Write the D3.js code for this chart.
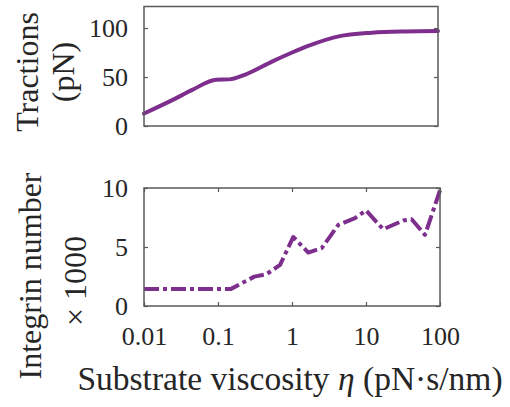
<!DOCTYPE html>
<html>
<head>
<meta charset="utf-8">
<script src="https://cdn.jsdelivr.net/npm/d3@7"></script>
<style>
  html, body { margin: 0; padding: 0; background: #fff; }
  svg { display: block; }
  text { font-family: "Liberation Serif", "Times New Roman", serif; fill: #262626; }
</style>
</head>
<body>
<svg id="chart" width="510" height="407"></svg>
<script>
// Viscosity samples (pN·s/nm) and mean traction force (pN)
const tractionEta = [0.01, 0.025, 0.046, 0.096, 0.145, 0.244, 0.56, 1, 1.75, 4.45, 12.6, 35.5, 100];
const tractionPN  = [12.7, 26.9, 37.1, 47.3, 47.6, 52.8, 66, 74.5, 82, 91.5, 95.3, 96.6, 97];

// Bound integrin count (×1000) against viscosity
const integrinEta = [0.01, 0.15, 0.31, 0.45, 0.69, 1.04, 1.66, 2.52, 4.23, 7.1, 10, 17.1, 31.9, 41.4, 62.7, 100];
const integrinK   = [1.45, 1.45, 2.49, 2.69, 3.48, 5.85, 4.53, 4.9, 6.88, 7.45, 8.1, 6.5, 7.25, 7.35, 6.03, 9.8];

const etaTicks      = [0.01, 0.1, 1, 10, 100];
const etaTickLabels = ["0.01", "0.1", "1", "10", "100"];
const tractionTicks = [0, 50, 100];
const integrinTicks = [0, 5, 10];

const purple = "#7E2F8E";
const boxColor = "#5a5a5a";
const svg = d3.select("#chart");

function panel(cfg) {
  const g = svg.append("g");
  const x = d3.scaleLog().domain([0.01, 100]).range([cfg.left, cfg.right]);
  const y = d3.scaleLinear().domain(cfg.yDomain).range([cfg.bottom, cfg.top]);

  // data line
  g.append("path")
    .datum(cfg.xs.map((v, i) => [v, cfg.ys[i]]))
    .attr("fill", "none")
    .attr("stroke", purple)
    .attr("stroke-width", 4)
    .attr("stroke-linejoin", "round")
    .attr("stroke-linecap", cfg.dash ? "butt" : "round")
    .attr("stroke-dasharray", cfg.dash || null)
    .attr("d", d3.line().x(d => x(d[0])).y(d => y(d[1])).curve(cfg.curve));

  const tickLen = 4;
  // left axis with inward ticks
  const left = g.append("g").attr("transform", `translate(${cfg.left},0)`)
    .call(d3.axisLeft(y).tickValues(cfg.yTicks).tickSize(-tickLen).tickPadding(16).tickFormat(d3.format("d")));
  // right axis ticks only
  const right = g.append("g").attr("transform", `translate(${cfg.right},0)`)
    .call(d3.axisRight(y).tickValues(cfg.yTicks).tickSize(-tickLen).tickFormat(""));
  const axes = [left, right];
  if (cfg.xTicks) {
    const bottom = g.append("g").attr("transform", `translate(0,${cfg.bottom})`)
      .call(d3.axisBottom(x).tickValues(etaTicks).tickSize(-tickLen).tickPadding(21)
        .tickFormat((d, i) => etaTickLabels[i]));
    const top = g.append("g").attr("transform", `translate(0,${cfg.top})`)
      .call(d3.axisTop(x).tickValues(etaTicks).tickSize(-tickLen).tickFormat(""));
    axes.push(bottom, top);
  }
  axes.forEach(a => {
    a.select(".domain").remove();
    a.selectAll(".tick line").attr("stroke", boxColor).attr("stroke-width", 1.2);
    a.selectAll(".tick text").attr("font-size", 26).attr("font-family", "Liberation Serif").attr("fill", "#262626");
  });

  // axes box
  g.append("rect")
    .attr("x", cfg.left).attr("y", cfg.top)
    .attr("width", cfg.right - cfg.left).attr("height", cfg.bottom - cfg.top)
    .attr("fill", "none").attr("stroke", boxColor).attr("stroke-width", 1.5);
  return { x, y };
}

panel({
  left: 144, right: 438, top: 6.5, bottom: 126,
  yDomain: [0, 122], yTicks: tractionTicks,
  xs: tractionEta, ys: tractionPN, curve: d3.curveMonotoneX
});

panel({
  left: 144, right: 440, top: 188, bottom: 306,
  yDomain: [0, 10], yTicks: integrinTicks,
  xs: integrinEta, ys: integrinK, curve: d3.curveLinear,
  dash: "15,4,4,4", xTicks: true
});

// y-axis titles
function vlabel(lines, cx, cy) {
  const t = svg.append("text")
    .attr("transform", `translate(${cx},${cy}) rotate(-90)`)
    .attr("text-anchor", "middle")
    .attr("font-size", 32);
  lines.forEach((l, i) => {
    t.append("tspan").attr("x", 0).attr("dy", i === 0 ? 0 : 36).text(l);
  });
}
vlabel(["Tractions", "(pN)"], 38, 72);

svg.append("text")
  .attr("transform", "translate(41,276) rotate(-90)")
  .attr("text-anchor", "middle").attr("font-size", 32)
  .text("Integrin number");
svg.append("text")
  .attr("transform", "translate(86,281) rotate(-90)")
  .attr("text-anchor", "middle").attr("font-size", 32)
  .text("\u00D7 1000");

// x-axis title
const xl = svg.append("text")
  .attr("x", 290).attr("y", 390)
  .attr("text-anchor", "middle").attr("font-size", 33.5);
xl.append("tspan").text("Substrate viscosity ");
xl.append("tspan").attr("font-style", "italic").text("\u03B7");
xl.append("tspan").text(" (pN\u00B7s/nm)");
</script>
</body>
</html>
